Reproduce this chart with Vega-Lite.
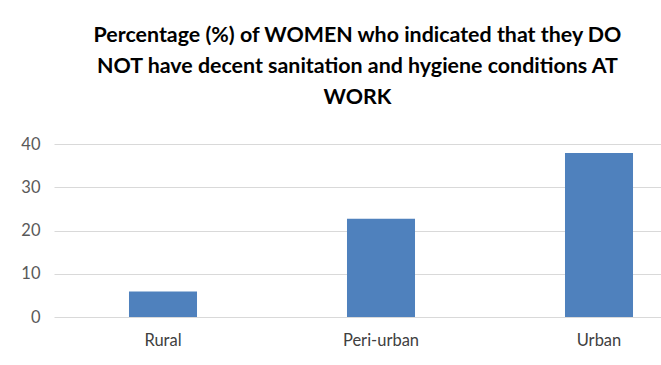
{
  "$schema": "https://vega.github.io/schema/vega-lite/v6.json",
  "autosize": {"type": "none"},
  "width": 607,
  "height": 173,
  "padding": {"left": 54, "top": 144, "right": 0, "bottom": 48},
  "background": "white",
  "title": {
    "text": [
      "Percentage (%) of WOMEN who indicated that they DO",
      "NOT have decent sanitation and hygiene conditions AT",
      "WORK"
    ],
    "anchor": "middle",
    "frame": "group",
    "font": "Lato",
    "fontSize": 21.4,
    "fontWeight": "bold",
    "color": "#000000",
    "lineHeight": 31,
    "baseline": "alphabetic",
    "offset": 11
  },
  "data": {
    "values": [
      {"area": "Rural", "pct": 5.9},
      {"area": "Peri-urban", "pct": 22.7},
      {"area": "Urban", "pct": 37.9}
    ]
  },
  "mark": {"type": "bar", "color": "#4f81bd"},
  "encoding": {
    "x": {
      "field": "area",
      "type": "nominal",
      "sort": null,
      "title": null,
      "scale": {"range": [0, 654], "paddingInner": 0.688, "paddingOuter": 0.344},
      "axis": {
        "domain": false,
        "ticks": false,
        "labelAngle": 0,
        "labelFont": "Lato",
        "labelFontSize": 16.5,
        "labelColor": "#404040",
        "labelPadding": 15
      }
    },
    "y": {
      "field": "pct",
      "type": "quantitative",
      "title": null,
      "scale": {"domain": [0, 40]},
      "axis": {
        "values": [0, 10, 20, 30, 40],
        "domain": false,
        "ticks": false,
        "gridColor": "#d9d9d9",
        "gridWidth": 1,
        "labelFont": "Lato",
        "labelFontSize": 16.5,
        "labelColor": "#595959",
        "labelPadding": 14
      }
    }
  },
  "config": {"view": {"stroke": null}}
}
